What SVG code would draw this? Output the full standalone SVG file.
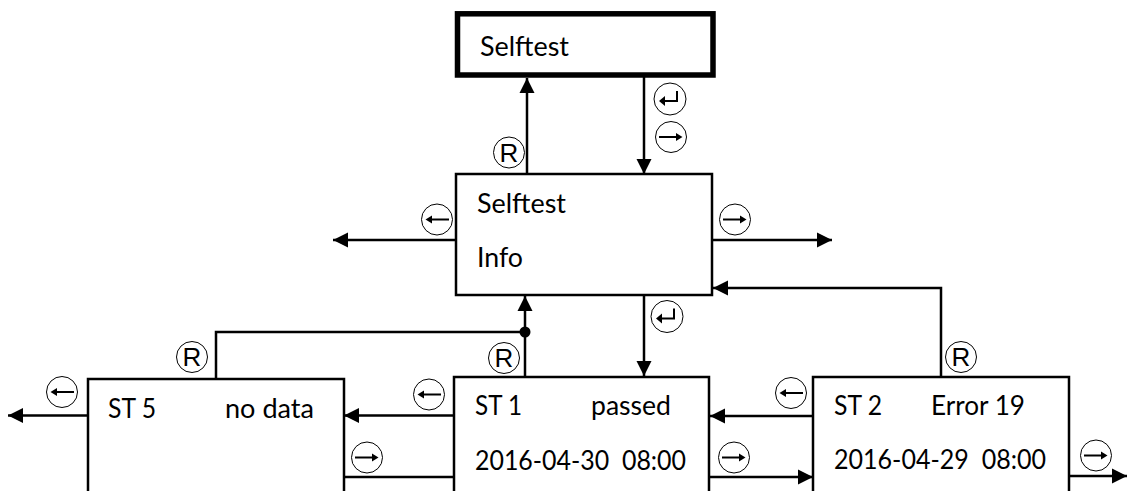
<svg xmlns="http://www.w3.org/2000/svg" width="1127" height="491" viewBox="0 0 1127 491">
<style>
.box{fill:#fff;stroke:#000;stroke-width:2.500}
.thick{fill:#fff;stroke:#000;stroke-width:5.500}
.c{fill:none;stroke:#000;stroke-width:2.500}
.h{fill:#000;stroke:none}
.t{font-family:"Lato","Open Sans","Liberation Sans",sans-serif;font-size:26px;fill:#000}
.r{font-family:"Liberation Sans",Arial,sans-serif;font-size:26px;fill:#000;text-anchor:middle}
.o{fill:#fff;stroke:#000;stroke-width:1}
.i{fill:none;stroke:#000;stroke-width:2}
</style>
<defs>
<marker id="a" markerUnits="userSpaceOnUse" markerWidth="16" markerHeight="16" refX="15" refY="8" orient="auto"><path d="M0 .5L15 8L0 15.5Z"/></marker>
<g id="right"><circle class="o" r="15.500"/><path class="i" d="M-12 0H8"/><path class="h" d="M5 -4L11.500 0L5 4Z"/></g>
<g id="left"><circle class="o" r="15.500"/><path class="i" d="M12 0H-8"/><path class="h" d="M-5 -4L-11.500 0L-5 4Z"/></g>
<g id="enter"><circle class="o" r="16"/><path class="i" d="M7 -8V2H-6"/><path class="h" d="M-5 -3L-11 2L-5 7Z"/></g>
<g id="reset"><circle class="o" r="15.500"/><text class="r" y="9">R</text></g>
</defs>
<g id="connectors">
<path class="c" marker-end="url(#a)" d="M527 174V78"/>
<path class="c" marker-end="url(#a)" d="M644 77V174"/>
<path class="c" marker-end="url(#a)" d="M456 240H333"/>
<path class="c" marker-end="url(#a)" d="M712 240H832"/>
<path class="c" marker-end="url(#a)" d="M941 377V288H713"/>
<path class="c" marker-end="url(#a)" d="M525 377V296"/>
<path class="c" d="M216 378V332H525"/>
<circle class="h" cx="525" cy="332" r="5.500"/>
<path class="c" marker-end="url(#a)" d="M644 295V376"/>
<path class="c" marker-end="url(#a)" d="M454 415.500H344"/>
<path class="c" d="M344 477H454"/>
<path class="c" marker-end="url(#a)" d="M813 416H710"/>
<path class="c" marker-end="url(#a)" d="M709 477H813"/>
<path class="c" marker-end="url(#a)" d="M88 415.500H8"/>
<path class="c" marker-end="url(#a)" d="M1069 476H1127"/>
</g>
<g id="node-selftest-top"><rect class="thick" x="457.500" y="13.800" width="255.500" height="61.200"/><text class="t" x="480" y="56" textLength="89" lengthAdjust="spacingAndGlyphs">Selftest</text></g>
<g id="node-selftest-info"><rect class="box" x="456" y="174" width="256" height="121"/><text class="t" x="477" y="213" textLength="89" lengthAdjust="spacingAndGlyphs">Selftest</text><text class="t" x="477" y="267" textLength="46" lengthAdjust="spacingAndGlyphs">Info</text></g>
<g id="node-st5"><path class="box" d="M88 495V379H344V495"/><text class="t" x="108" y="417.500" textLength="48" lengthAdjust="spacingAndGlyphs">ST 5</text><text class="t" x="225" y="417.500" textLength="89" lengthAdjust="spacingAndGlyphs">no data</text></g>
<g id="node-st1"><path class="box" d="M454 495V377H709V495"/><text class="t" x="475" y="415" textLength="47" lengthAdjust="spacingAndGlyphs">ST 1</text><text class="t" x="591" y="415" textLength="80" lengthAdjust="spacingAndGlyphs">passed</text><text class="t" x="475" y="470" textLength="211" lengthAdjust="spacingAndGlyphs" xml:space="preserve">2016-04-30  08:00</text></g>
<g id="node-st2"><path class="box" d="M813 495V377H1069V495"/><text class="t" x="834" y="415" textLength="48" lengthAdjust="spacingAndGlyphs">ST 2</text><text class="t" x="931" y="415" textLength="94" lengthAdjust="spacingAndGlyphs">Error 19</text><text class="t" x="834" y="469" textLength="212" lengthAdjust="spacingAndGlyphs" xml:space="preserve">2016-04-29  08:00</text></g>
<g id="symbols">
<use href="#enter" x="670" y="99"/>
<use href="#right" x="671" y="137"/>
<use href="#reset" x="509" y="152.500"/>
<use href="#left" x="437" y="219.500"/>
<use href="#right" x="735" y="219.500"/>
<use href="#enter" x="667" y="316.500"/>
<use href="#reset" x="504" y="358"/>
<use href="#reset" x="192" y="357"/>
<use href="#left" x="62" y="392"/>
<use href="#left" x="429" y="394.500"/>
<use href="#right" x="367" y="457.500"/>
<use href="#left" x="791" y="393"/>
<use href="#right" x="734" y="457.500"/>
<use href="#reset" x="961" y="357"/>
<use href="#right" x="1096" y="455.500"/>
</g>
</svg>
